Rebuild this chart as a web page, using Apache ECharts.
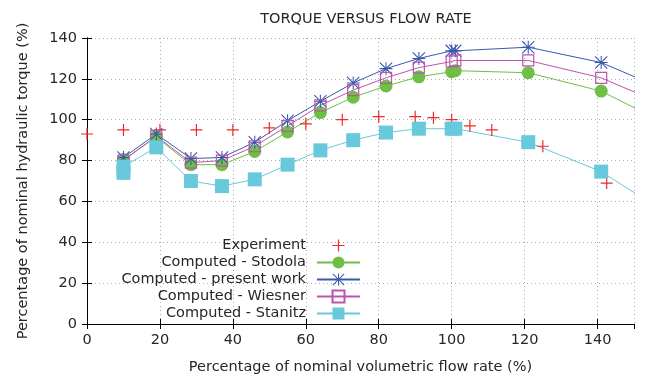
<!DOCTYPE html>
<html>
<head>
<meta charset="utf-8">
<script src="https://cdn.jsdelivr.net/npm/echarts@6/dist/echarts.min.js"></script>
<style>html,body{margin:0;padding:0;background:#fff}#c{width:645px;height:380px}</style>
</head>
<body>
<div id="c"></div>
<script>
var titleText = 'TORQUE VERSUS FLOW RATE';
var xName = 'Percentage of nominal volumetric flow rate (%)';
var yName = 'Percentage of nominal hydraulic torque (%)';

var expX = [0, 10, 20, 30, 40, 50, 60, 70, 80, 90, 95, 100, 105, 111, 125, 142.5];
var expY = [93, 95, 95, 95, 95, 96, 98, 100, 101.5, 101.5, 101, 100, 97, 95, 87, 69];

var compX = [10, 19, 28.5, 37, 46, 55, 64, 73, 82, 91, 100, 101, 121, 141, 160];
var stodolaY = [80.5, 91.5, 78, 78, 84.5, 94, 103.5, 111, 116.5, 121, 123.5, 124, 123, 114, 97];
var presentY = [81.5, 93, 81, 81.5, 89, 99.5, 109, 118, 125, 130, 133.7, 133.7, 135.5, 128, 113.5];
var wiesnerY = [80, 92, 79, 80, 87, 97, 107, 114.5, 120.5, 125.5, 128.5, 129, 129, 120.5, 106];

var stanitzX = [10, 10, 19, 28.5, 37, 46, 55, 64, 73, 82, 91, 100, 101, 121, 141, 160];
var stanitzY = [74, 77, 86.5, 70, 67.5, 70.8, 78, 85, 90, 93.7, 95.6, 95.6, 95.6, 89, 74.6, 53];

var names = ['Experiment', 'Computed - Stodola', 'Computed - present work', 'Computed - Wiesner', 'Computed - Stanitz'];

function pairs(xs, ys) { return xs.map(function (x, i) { return [x, ys[i]]; }); }

var plusPath = 'path://M0 45H100V55H0Z M45 0H55V100H45Z';
var starPath = 'path://M0 46H100V54H0Z M46 0H54V100H46Z M0 6L6 0L100 94L94 100Z M94 0L100 6L6 100L0 94Z';

var font = 'DejaVu Sans';
var fs = 14.5;
var txt = '#262626';
var grid = {type: [1, 3], color: '#aaa', width: 1};

var chart = echarts.init(document.getElementById('c'), null, {renderer: 'canvas'});
chart.setOption({
  animation: false,
  backgroundColor: '#fff',
  textStyle: {fontFamily: font},
  title: {
    text: titleText, left: 361, top: 7, textAlign: 'center',
    textStyle: {fontFamily: font, fontSize: fs, fontWeight: 'normal', color: txt}
  },
  grid: {left: 87, right: 11, top: 38, bottom: 55},
  legend: {
    orient: 'vertical', align: 'right', right: 279, top: 233,
    itemWidth: 43, itemHeight: 15, itemGap: 2,
    textStyle: {fontFamily: font, fontSize: fs, color: txt, padding: [0, 6, 0, 0]},
    data: names
  },
  xAxis: [{
    type: 'value', min: 0, max: 150, interval: 20,
    name: xName, nameLocation: 'middle', nameGap: 36,
    nameTextStyle: {fontFamily: font, fontSize: fs, color: txt},
    axisLine: {show: true, lineStyle: {color: '#000', width: 1}},
    axisTick: {show: true, inside: true, length: 5, lineStyle: {color: '#000'}},
    axisLabel: {showMaxLabel: false, margin: 9, fontFamily: font, fontSize: fs, color: txt},
    splitLine: {show: true, lineStyle: grid}
  }, {
    type: 'value', min: 0, max: 150, interval: 20, position: 'top',
    axisLine: {show: true, lineStyle: {color: '#000', width: 1}},
    axisTick: {show: true, inside: true, length: 5, lineStyle: {color: '#000'}},
    axisLabel: {show: false}, splitLine: {show: false}
  }],
  yAxis: [{
    type: 'value', min: 0, max: 140, interval: 20,
    name: yName, nameLocation: 'middle', nameGap: 56,
    nameTextStyle: {fontFamily: font, fontSize: fs, color: txt},
    axisLine: {show: true, lineStyle: {color: '#000', width: 1}},
    axisTick: {show: true, inside: true, length: 5, lineStyle: {color: '#000'}},
    axisLabel: {margin: 10, fontFamily: font, fontSize: fs, color: txt},
    splitLine: {show: true, lineStyle: grid}
  }, {
    type: 'value', min: 0, max: 140, interval: 20, position: 'right',
    axisLine: {show: true, lineStyle: {color: '#000', width: 1}},
    axisTick: {show: true, inside: true, length: 5, lineStyle: {color: '#000'}},
    axisLabel: {show: false}, splitLine: {show: false}
  }],
  series: [{
    name: names[0], type: 'line', data: pairs(expX, expY),
    symbol: plusPath, symbolSize: 12, showSymbol: true,
    lineStyle: {opacity: 0, width: 0, color: '#ee2a2a'},
    itemStyle: {color: '#ee2a2a'}
  }, {
    name: names[1], type: 'line', data: pairs(compX, stodolaY),
    symbol: 'circle', symbolSize: 13,
    lineStyle: {color: '#6dbf45', width: 1},
    itemStyle: {color: '#6dbf45'}
  }, {
    name: names[2], type: 'line', data: pairs(compX, presentY),
    symbol: starPath, symbolSize: 13,
    lineStyle: {color: '#3a58ad', width: 1},
    itemStyle: {color: '#3a58ad'}
  }, {
    name: names[3], type: 'line', data: pairs(compX, wiesnerY),
    symbol: 'rect', symbolSize: 11,
    lineStyle: {color: '#bb55aa', width: 1},
    itemStyle: {color: 'rgba(255,255,255,0)', borderColor: '#bb55aa', borderWidth: 1.2}
  }, {
    name: names[4], type: 'line', data: pairs(stanitzX, stanitzY),
    symbol: 'rect', symbolSize: 14,
    lineStyle: {color: '#68c8dc', width: 1},
    itemStyle: {color: '#68c8dc'}
  }]
});
</script>
</body>
</html>
